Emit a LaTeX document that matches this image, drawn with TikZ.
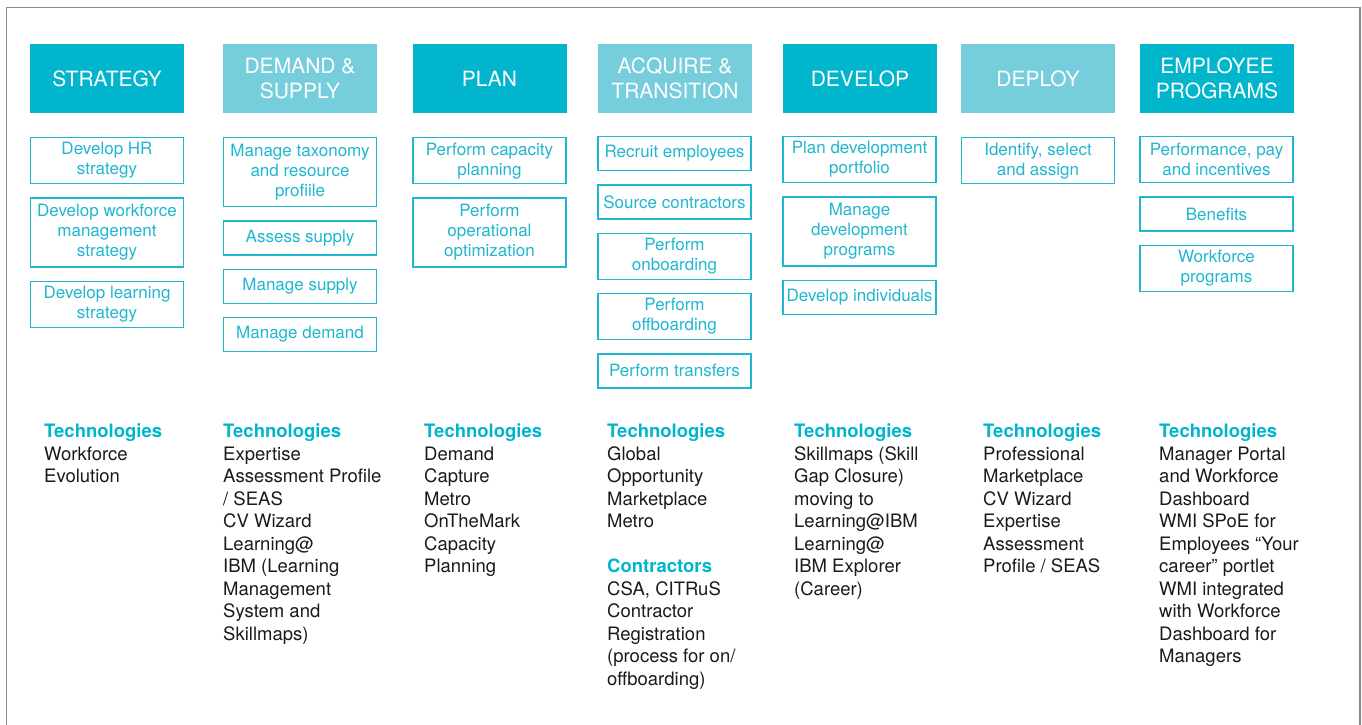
\documentclass[tikz,border=0pt]{standalone}
\usepackage{fontspec}
\setmainfont{TeX Gyre Heros}
\usetikzlibrary{positioning}
\definecolor{ibmdark}{HTML}{00B5CC}
\definecolor{ibmlight}{HTML}{76CEDD}
\definecolor{ibmline}{HTML}{1FB6CF}
\definecolor{techtext}{HTML}{1A1A1A}
\definecolor{framegray}{HTML}{8A8A8A}

\begin{document}
\begin{tikzpicture}[x=1pt,y=-1pt]
      \tikzset{phase/.style={minimum width=154pt,minimum height=69pt,inner sep=0pt,align=center,text=white,font=\fontsize{21}{25.5}\selectfont},
        darkphase/.style={phase,fill=ibmdark},
        lightphase/.style={phase,fill=ibmlight},
        task/.style={draw=ibmline,line width=1.3pt,text=ibmline,minimum width=153pt,minimum height=34pt,inner sep=0pt,align=center,font=\fontsize{17}{20}\selectfont},
        tasktwo/.style={task,minimum height=46pt},
        taskthree/.style={task,minimum height=69pt},
        tech/.style={anchor=north west,inner sep=0pt,align=left,text=techtext,font=\fontsize{18.5}{22.5}\selectfont}}
      \def\gap{13pt}
      \def\tkhead#1{{\color{ibmdark}\bfseries #1}}
      \useasboundingbox (0,0) rectangle (1362,725);
      \draw[framegray,line width=1.5pt] (6.5,726) -- (6.5,7.5) -- (1360,7.5) -- (1360,726);

% phases
\node[darkphase] (strategy) at (107,78.5) {STRATEGY};
\node[lightphase] (demand) at (300,78.5) {DEMAND \&\\SUPPLY};
\node[darkphase] (plan) at (489.5,78.5) {PLAN};
\node[lightphase] (acquire) at (675,78.5) {ACQUIRE \&\\TRANSITION};
\node[darkphase] (develop) at (860,78.5) {DEVELOP};
\node[lightphase] (deploy) at (1038,78.5) {DEPLOY};
\node[darkphase] (employee) at (1217,78.5) {EMPLOYEE\\PROGRAMS};

% tasks
\node[tasktwo,anchor=north] (st1) at (107,137) {Develop HR\\strategy};
\node[taskthree,below=\gap of st1] (st2) {Develop workforce\\management\\strategy};
\node[tasktwo,below=\gap of st2] (st3) {Develop learning\\strategy};

\node[taskthree,anchor=north] (ds1) at (300,137) {Manage taxonomy\\and resource\\profiile};
\node[task,below=\gap of ds1] (ds2) {Assess supply};
\node[task,below=\gap of ds2] (ds3) {Manage supply};
\node[task,below=\gap of ds3] (ds4) {Manage demand};

\node[tasktwo,anchor=north] (pl1) at (489.5,137) {Perform capacity\\planning};
\node[taskthree,below=\gap of pl1] (pl2) {Perform\\operational\\optimization};

\node[task,anchor=north] (ac1) at (674.5,136) {Recruit employees};
\node[task,below=\gap of ac1] (ac2) {Source contractors};
\node[tasktwo,below=\gap of ac2] (ac3) {Perform\\onboarding};
\node[tasktwo,below=\gap of ac3] (ac4) {Perform\\offboarding};
\node[task,below=\gap of ac4] (ac5) {Perform transfers};

\node[tasktwo,anchor=north] (dv1) at (859.5,136) {Plan development\\portfolio};
\node[taskthree,below=\gap of dv1] (dv2) {Manage\\development\\programs};
\node[task,below=\gap of dv2] (dv3) {Develop individuals};

\node[tasktwo,anchor=north] (dp1) at (1038,137) {Identify, select\\and assign};

\node[tasktwo,anchor=north] (ep1) at (1216.5,136) {Performance, pay\\and incentives};
\node[task,below=\gap of ep1] (ep2) {Benefits};
\node[tasktwo,below=\gap of ep2] (ep3) {Workforce\\programs};

% technologies
\node[tech] (tst) at (44,424) {\tkhead{Technologies}\\Workforce\\Evolution};
\node[tech] (tds) at (223,424) {\tkhead{Technologies}\\Expertise\\Assessment Profile\\/ SEAS\\CV Wizard\\Learning@\\IBM (Learning\\Management\\System and\\Skillmaps)};
\node[tech] (tpl) at (424,424) {\tkhead{Technologies}\\Demand\\Capture\\Metro\\OnTheMark\\Capacity\\Planning};
\node[tech] (tac) at (607,424) {\tkhead{Technologies}\\Global\\Opportunity\\Marketplace\\Metro\\[22.5pt]\tkhead{Contractors}\\CSA, CITRuS\\Contractor\\Registration\\(process for on/\\offboarding)};
\node[tech] (tdv) at (794,424) {\tkhead{Technologies}\\Skillmaps (Skill\\Gap Closure)\\moving to\\Learning@IBM\\Learning@\\IBM Explorer\\(Career)};
\node[tech] (tdp) at (983,424) {\tkhead{Technologies}\\Professional\\Marketplace\\CV Wizard\\Expertise\\Assessment\\Profile / SEAS};
\node[tech] (tep) at (1159,424) {\tkhead{Technologies}\\Manager Portal\\and Workforce\\Dashboard\\WMI SPoE for\\Employees “Your\\career” portlet\\WMI integrated\\with Workforce\\Dashboard for\\Managers};
\end{tikzpicture}
\end{document}
